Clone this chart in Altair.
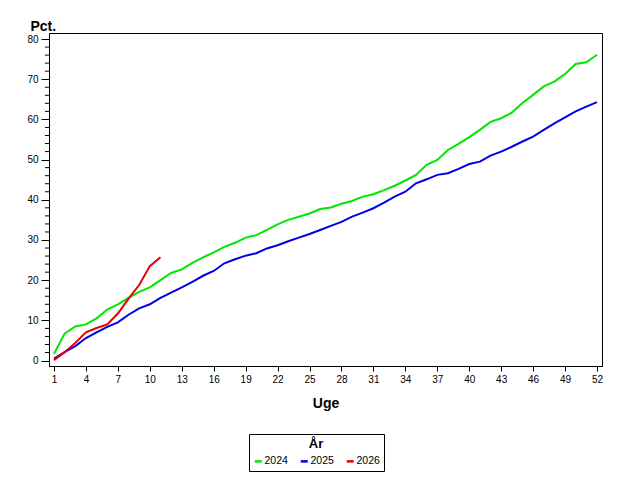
import altair as alt
import pandas as pd

weeks_2024 = list(range(1, 53))
pct_2024 = [1.7, 6.7, 8.5, 9.0, 10.5, 12.7, 14.0, 15.6, 17.1, 18.2,
            20.0, 21.8, 22.7, 24.3, 25.7, 26.9, 28.3, 29.3, 30.6, 31.2,
            32.5, 33.9, 35.0, 35.8, 36.6, 37.7, 38.1, 39.0, 39.7, 40.8,
            41.4, 42.4, 43.5, 44.8, 46.2, 48.7, 49.9, 52.4, 53.9, 55.6,
            57.4, 59.4, 60.3, 61.7, 64.1, 66.1, 68.2, 69.4, 71.3, 73.8,
            74.2, 76.1]
weeks_2025 = list(range(1, 53))
pct_2025 = [0.5, 2.1, 3.6, 5.6, 7.0, 8.4, 9.5, 11.4, 13.0, 14.0,
            15.6, 16.9, 18.2, 19.6, 21.1, 22.3, 24.2, 25.2, 26.1, 26.7,
            27.9, 28.7, 29.7, 30.6, 31.5, 32.5, 33.5, 34.5, 35.8, 36.8,
            37.9, 39.3, 40.8, 42.0, 44.1, 45.1, 46.2, 46.6, 47.7, 48.9,
            49.5, 51.0, 52.0, 53.2, 54.5, 55.7, 57.4, 59.0, 60.5, 62.0,
            63.2, 64.3]
weeks_2026 = list(range(1, 12))
pct_2026 = [0.1, 2.1, 4.4, 7.05, 8.1, 9.0, 11.7, 15.4, 18.8, 23.5, 25.7]

years = ["2024", "2025", "2026"]
colors = ["#00e600", "#0000e6", "#e60000"]
x_ticks = list(range(1, 53, 3))
y_ticks = list(range(0, 81, 10))
y_minor = [v for v in range(0, 81, 2) if v % 10 != 0]

rows = []
for yr, wk, pc in [("2024", weeks_2024, pct_2024),
                   ("2025", weeks_2025, pct_2025),
                   ("2026", weeks_2026, pct_2026)]:
    for w, p in zip(wk, pc):
        rows.append({"Uge": w, "Pct": p, "År": yr})
df = pd.DataFrame(rows)

FONT = "Liberation Sans"

xscale = alt.Scale(domain=[0.53, 52.47], nice=False, zero=False)
yscale = alt.Scale(domain=[-1.35, 81.5], nice=False, zero=False)

lines = alt.Chart(df).mark_line(strokeWidth=2).encode(
    x=alt.X("Uge:Q", scale=xscale,
            axis=alt.Axis(values=x_ticks, title="Uge", tickSize=5,
                          labelPadding=3, titleY=41, titleBaseline="alphabetic",
                          labelFontSize=10, titleFontSize=14, titleFontWeight="bold",
                          grid=False, labelFlush=False)),
    y=alt.Y("Pct:Q", scale=yscale,
            axis=alt.Axis(values=y_ticks, title="Pct.", tickSize=8,
                          labelPadding=3, titleAngle=0, titleAlign="left",
                          titleX=-19, titleY=-3, titleBaseline="alphabetic",
                          labelFontSize=10, titleFontSize=14, titleFontWeight="bold",
                          grid=False)),
    color=alt.Color("År:N", scale=alt.Scale(domain=years, range=colors),
                    legend=alt.Legend(orient="none", legendX=200, legendY=401,
                                      direction="horizontal", title="År",
                                      titleAnchor="middle", titleAlign="center",
                                      titleFontSize=13, titleFontWeight="bold",
                                      labelFontSize=10.5, symbolType="stroke",
                                      symbolSize=49, symbolStrokeWidth=2.5,
                                      labelOffset=1, columnPadding=7,
                                      padding=4, strokeColor="black",
                                      fillColor="white", titlePadding=5)),
)

minor = alt.Chart(pd.DataFrame({"v": y_minor})).mark_rule(color="black", strokeWidth=1).encode(
    y=alt.Y("v:Q", scale=yscale),
    x=alt.value(-4),
    x2=alt.value(0),
)

chart = alt.layer(lines, minor).properties(
    width=553, height=333,
    autosize=alt.AutoSizeParams(type="none"),
    padding={"left": 41, "top": 25, "right": 30, "bottom": 106},
).configure(font=FONT).configure_view(
    stroke="black", strokeWidth=1
).configure_axis(
    domainColor="black", tickColor="black", labelColor="black", titleColor="black"
).configure_legend(
    labelColor="black", titleColor="black"
)

chart.save("out.html", embed_options={"renderer": "svg", "actions": False})
